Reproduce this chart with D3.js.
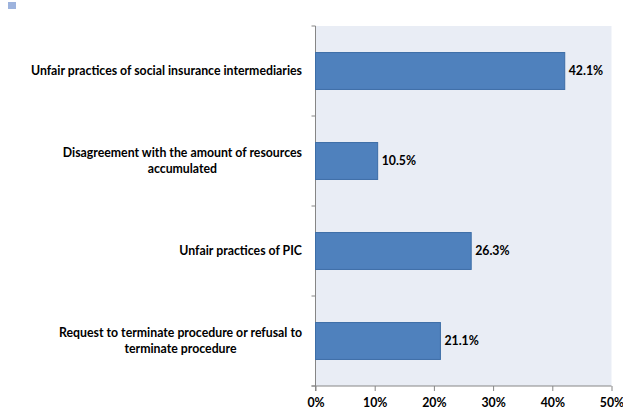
<!DOCTYPE html>
<html>
<head>
<meta charset="utf-8">
<script src="https://cdn.jsdelivr.net/npm/d3@7"></script>
<style>
  body { margin: 0; background: #fff; }
  text { font-family: Lato, "Open Sans", sans-serif; font-weight: bold; fill: #000; }
</style>
</head>
<body>
<div id="chart"></div>
<script>
var categories = [
  "Unfair practices of social insurance intermediaries",
  "Disagreement with the amount of resources\naccumulated",
  "Unfair practices of PIC",
  "Request to terminate procedure or refusal to\nterminate procedure"
];
var values = [42.1, 10.5, 26.3, 21.1];
var xTicks = [0, 10, 20, 30, 40, 50];

gen_barChart();

function gen_barChart() {
  var w = 623;
  var h = 410;
  var pLeft = 315.5, pRight = 611.5, pTop = 26, pBottom = 386;
  var fs = "12.3px";

  var svg = d3.select("#chart")
    .append("svg")
    .attr("width", w)
    .attr("height", h);

  // little legend square top left
  svg.append("rect")
    .attr("x", 8).attr("y", 2)
    .attr("width", 8).attr("height", 7)
    .style("fill", "#9db3dd");

  svg.append("rect")
    .attr("x", pLeft).attr("y", pTop)
    .attr("width", pRight - pLeft).attr("height", pBottom - pTop)
    .style("fill", "#e9edf5");

  var xscale = d3.scaleLinear()
    .domain([0, 50])
    .range([pLeft, pRight]);

  var yscale = d3.scaleBand()
    .domain(d3.range(categories.length))
    .range([pTop, pBottom])
    .paddingInner(0.59)
    .paddingOuter(0.295);

  var band = d3.scaleBand()
    .domain(d3.range(categories.length))
    .range([pTop, pBottom]);

  var xaxis = d3.axisBottom()
    .scale(xscale)
    .tickValues(xTicks)
    .tickSize(5)
    .tickFormat(function(d) { return d + "%"; });

  var gx = svg.append("g")
    .attr("transform", "translate(0," + pBottom + ")")
    .call(xaxis);
  gx.select(".domain").remove();
  gx.selectAll("line").style("stroke", "#868686");
  gx.selectAll("text")
    .attr("dy", null)
    .attr("y", 21)
    .style("font-size", fs);

  // axis lines
  svg.append("line")
    .attr("x1", pLeft).attr("x2", pLeft)
    .attr("y1", pTop).attr("y2", pBottom + 5)
    .style("stroke", "#868686");
  svg.append("line")
    .attr("x1", pLeft - 4).attr("x2", pRight)
    .attr("y1", pBottom).attr("y2", pBottom)
    .style("stroke", "#868686");

  // y ticks between categories
  var bounds = d3.range(categories.length + 1).map(function(i) {
    return pTop + i * band.step();
  });
  svg.selectAll(".ytick")
    .data(bounds)
    .enter().append("line")
    .attr("x1", pLeft - 4).attr("x2", pLeft)
    .attr("y1", function(d) { return d; })
    .attr("y2", function(d) { return d; })
    .style("stroke", "#868686");

  svg.selectAll(".bar")
    .data(values)
    .enter().append("rect")
    .attr("x", xscale(0))
    .attr("y", function(d, i) { return yscale(i); })
    .attr("width", function(d) { return xscale(d) - xscale(0); })
    .attr("height", yscale.bandwidth())
    .style("fill", "#4f81bd")
    .style("stroke", "#3c6da6")
    .style("stroke-width", 1);

  svg.selectAll(".val")
    .data(values)
    .enter().append("text")
    .attr("x", function(d) { return xscale(d) + 4; })
    .attr("y", function(d, i) { return band(i) + band.bandwidth() / 2; })
    .attr("dy", "0.35em")
    .style("font-size", fs)
    .text(function(d) { return d.toFixed(1) + "%"; });

  // category labels, wrapped lines centred inside a right aligned block
  var labelRight = 302;
  categories.forEach(function(c, i) {
    var lines = c.split("\n");
    var cy = band(i) + band.bandwidth() / 2;
    var t = svg.append("g").selectAll("text")
      .data(lines)
      .enter().append("text")
      .attr("y", function(d, j) { return cy + (j - (lines.length - 1) / 2) * 16; })
      .attr("dy", "0.35em")
      .style("font-size", fs)
      .text(function(d) { return d; });
    var maxW = d3.max(t.nodes(), function(n) { return n.getComputedTextLength(); });
    t.attr("x", labelRight - maxW / 2)
      .attr("text-anchor", "middle");
  });
}
</script>
</body>
</html>
